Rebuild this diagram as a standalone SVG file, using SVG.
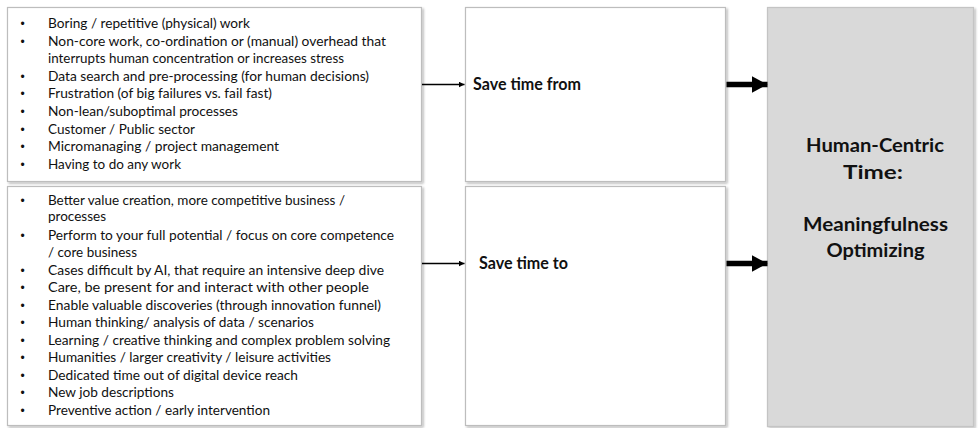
<svg xmlns="http://www.w3.org/2000/svg" width="980" height="428" viewBox="0 0 980 428">
  <style>
    .box { fill: #ffffff; stroke: #bdbdbd; stroke-width: 1.2; filter: url(#shadow); }
    .goal { fill: #d9d9d9; stroke: #c4c4c4; stroke-width: 1.2; filter: url(#shadow); }
    .item { font-family: Lato, "Liberation Sans", sans-serif; font-size: 12.6px; fill: #111111; }
    .dot { font-family: "Liberation Sans", sans-serif; font-size: 12px; fill: #111111; text-anchor: middle; }
    .label { font-family: Lato, "Liberation Sans", sans-serif; font-size: 16.5px; font-weight: bold; fill: #111111; }
    .title { font-family: Lato, "Liberation Sans", sans-serif; font-size: 18.5px; font-weight: bold; fill: #111111; text-anchor: middle; }
    .thin { stroke: #000000; stroke-width: 1.6; fill: none; }
    .thick { stroke: #000000; stroke-width: 5.5; fill: none; }
  </style>
  <defs>
    <filter id="shadow" x="-5%" y="-5%" width="110%" height="110%">
      <feDropShadow dx="1.5" dy="1.5" stdDeviation="1" flood-color="#000000" flood-opacity="0.3"/>
    </filter>
    <marker id="headThin" viewBox="0 0 10 10" refX="10" refY="5" markerWidth="6" markerHeight="6" markerUnits="userSpaceOnUse" orient="auto">
      <path d="M0,0 L10,5 L0,10 Z" fill="#000000"/>
    </marker>
    <marker id="headThick" viewBox="0 0 10 10" refX="10" refY="5" markerWidth="16" markerHeight="17" markerUnits="userSpaceOnUse" orient="auto" preserveAspectRatio="none">
      <path d="M0,0 L10,5 L0,10 Z" fill="#000000"/>
    </marker>
  </defs>

  <rect width="980" height="428" fill="#ffffff"/>

  <!-- list of things to save time from -->
  <g id="from-list">
    <rect class="box" x="7.5" y="7.5" width="414" height="174"/>
    <g class="dot">
      <text x="22.5" y="28">•</text>
      <text x="22.5" y="45.6">•</text>
      <text x="22.5" y="80.8">•</text>
      <text x="22.5" y="98.4">•</text>
      <text x="22.5" y="116">•</text>
      <text x="22.5" y="133.6">•</text>
      <text x="22.5" y="151.2">•</text>
      <text x="22.5" y="168.8">•</text>
    </g>
    <g class="item">
      <text x="48" y="28" textLength="202" lengthAdjust="spacingAndGlyphs">Boring / repetitive (physical) work</text>
      <text x="48" y="45.6" textLength="338" lengthAdjust="spacingAndGlyphs">Non-core work, co-ordination or (manual) overhead that</text>
      <text x="48" y="63.2" textLength="296" lengthAdjust="spacingAndGlyphs">interrupts human concentration or increases stress</text>
      <text x="48" y="80.8" textLength="321" lengthAdjust="spacingAndGlyphs">Data search and pre-processing (for human decisions)</text>
      <text x="48" y="98.4" textLength="224" lengthAdjust="spacingAndGlyphs">Frustration (of big failures vs. fail fast)</text>
      <text x="48" y="116" textLength="190" lengthAdjust="spacingAndGlyphs">Non-lean/suboptimal processes</text>
      <text x="48" y="133.6" textLength="147" lengthAdjust="spacingAndGlyphs">Customer / Public sector</text>
      <text x="48" y="151.2" textLength="231" lengthAdjust="spacingAndGlyphs">Micromanaging / project management</text>
      <text x="48" y="168.8" textLength="133" lengthAdjust="spacingAndGlyphs">Having to do any work</text>
    </g>
  </g>

  <!-- list of things to save time to -->
  <g id="to-list">
    <rect class="box" x="7.5" y="186.5" width="414" height="239"/>
    <g class="dot">
      <text x="22.5" y="205">•</text>
      <text x="22.5" y="239.5">•</text>
      <text x="22.5" y="274.5">•</text>
      <text x="22.5" y="292">•</text>
      <text x="22.5" y="309.5">•</text>
      <text x="22.5" y="327">•</text>
      <text x="22.5" y="344.5">•</text>
      <text x="22.5" y="362">•</text>
      <text x="22.5" y="379.5">•</text>
      <text x="22.5" y="397">•</text>
      <text x="22.5" y="414.5">•</text>
    </g>
    <g class="item">
      <text x="48" y="205" textLength="297" lengthAdjust="spacingAndGlyphs">Better value creation, more competitive business /</text>
      <text x="48" y="221" textLength="58" lengthAdjust="spacingAndGlyphs">processes</text>
      <text x="48" y="239.5" textLength="346" lengthAdjust="spacingAndGlyphs">Perform to your full potential / focus on core competence</text>
      <text x="48" y="257" textLength="89" lengthAdjust="spacingAndGlyphs">/ core business</text>
      <text x="48" y="274.5" textLength="336" lengthAdjust="spacingAndGlyphs">Cases difficult by AI, that require an intensive deep dive</text>
      <text x="48" y="292" textLength="321" lengthAdjust="spacingAndGlyphs">Care, be present for and interact with other people</text>
      <text x="48" y="309.5" textLength="333" lengthAdjust="spacingAndGlyphs">Enable valuable discoveries (through innovation funnel)</text>
      <text x="48" y="327" textLength="266" lengthAdjust="spacingAndGlyphs">Human thinking/ analysis of data / scenarios</text>
      <text x="48" y="344.5" textLength="342" lengthAdjust="spacingAndGlyphs">Learning / creative thinking and complex problem solving</text>
      <text x="48" y="362" textLength="283" lengthAdjust="spacingAndGlyphs">Humanities / larger creativity / leisure activities</text>
      <text x="48" y="379.5" textLength="250" lengthAdjust="spacingAndGlyphs">Dedicated time out of digital device reach</text>
      <text x="48" y="397" textLength="126" lengthAdjust="spacingAndGlyphs">New job descriptions</text>
      <text x="48" y="414.5" textLength="222" lengthAdjust="spacingAndGlyphs">Preventive action / early intervention</text>
    </g>
  </g>

  <!-- middle column -->
  <g id="save-from">
    <rect class="box" x="465.5" y="7.5" width="260" height="174"/>
    <text class="label" x="473" y="90" textLength="108" lengthAdjust="spacingAndGlyphs">Save time from</text>
  </g>
  <g id="save-to">
    <rect class="box" x="465.5" y="186.5" width="260" height="239"/>
    <text class="label" x="479" y="268.5" textLength="89" lengthAdjust="spacingAndGlyphs">Save time to</text>
  </g>

  <!-- outcome column -->
  <g id="human-centric">
    <rect class="goal" x="767.5" y="7.5" width="206" height="419"/>
    <text class="title" x="875" y="151.5" textLength="138" lengthAdjust="spacingAndGlyphs">Human-Centric</text>
    <text class="title" x="873" y="178.5" textLength="60" lengthAdjust="spacingAndGlyphs">Time:</text>
    <text class="title" x="875.5" y="231" textLength="145" lengthAdjust="spacingAndGlyphs">Meaningfulness</text>
    <text class="title" x="875.5" y="257" textLength="98" lengthAdjust="spacingAndGlyphs">Optimizing</text>
  </g>

  <!-- connectors -->
  <g id="connectors">
    <line class="thin" x1="422" y1="84.5" x2="464.5" y2="84.5" marker-end="url(#headThin)"/>
    <line class="thin" x1="422" y1="263.5" x2="464.5" y2="263.5" marker-end="url(#headThin)"/>
    <line class="thick" x1="726.5" y1="84.5" x2="767.5" y2="84.5" marker-end="url(#headThick)"/>
    <line class="thick" x1="726.5" y1="263.5" x2="767.5" y2="263.5" marker-end="url(#headThick)"/>
  </g>
</svg>
